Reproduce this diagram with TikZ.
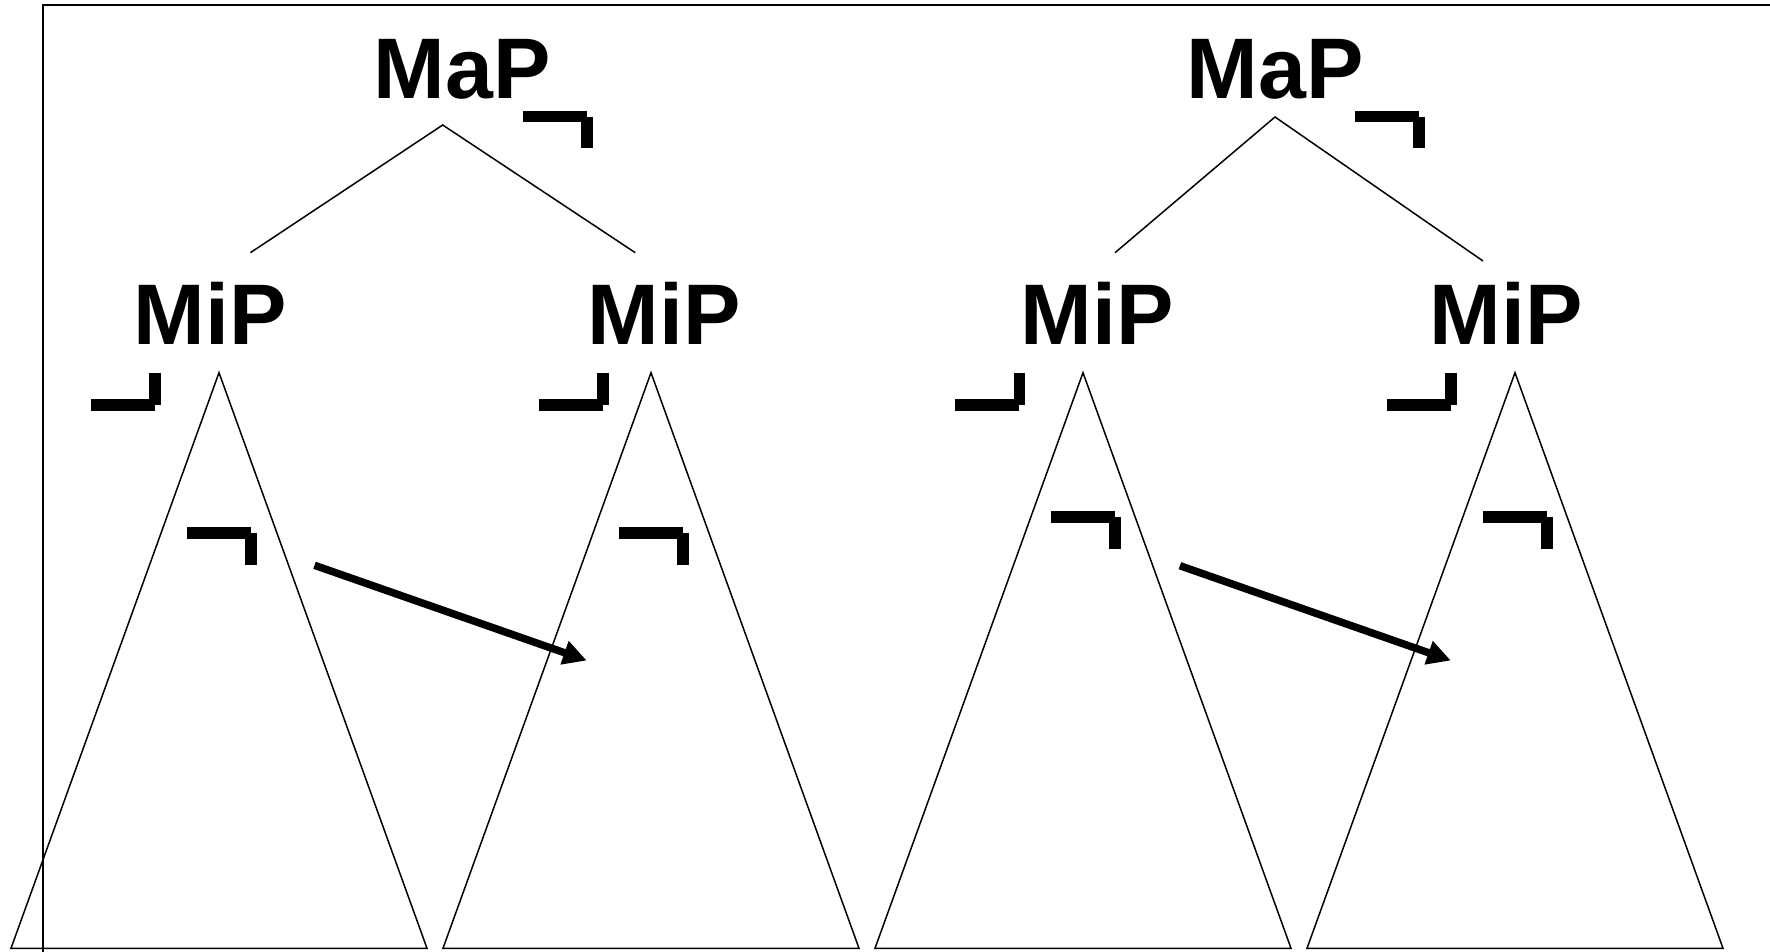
\documentclass[tikz,border=0pt]{standalone}
\usepackage{fontspec}
\setmainfont{Liberation Sans}
\usetikzlibrary{arrows.meta}
\tikzset{
  label/.style={inner sep=0pt, outer sep=0pt, anchor=base west,
    font=\fontsize{86}{90}\selectfont\bfseries},
  thin/.style={line width=1.5pt, line join=miter},
  frameline/.style={line width=2pt},
  move/.style={line width=7.5pt, -{Triangle[length=23.5pt,width=23.5pt]}},
  topbr/.pic={
    \fill (0,0) rectangle (64,11.5);
    \fill (58,6) rectangle (69.7,37.4);
  },
  botbr/.pic={
    \fill (-11.5,0) rectangle (0,31.7);
    \fill (-69.7,26) rectangle (-5.8,37.4);
  }
}
\begin{document}
\begin{tikzpicture}[x=1pt,y=-1pt]
\useasboundingbox (0,0) rectangle (1770,952);
% frame (left and top only)
\coordinate (fTR) at (1770,5);
\coordinate (fTL) at (42.7,5);
\coordinate (fBL) at (42.7,952);
\draw[frameline] (fTR) -- (fTL) -- (fBL);

% labels
\node[label] (map1) at (373.7,99) {MaP};
\node[label] (map2) at (1186.7,99) {MaP};
\node[label] (mip1) at (133.7,344) {MiP};
\node[label] (mip2) at (587.7,344) {MiP};
\node[label] (mip3) at (1020.7,344) {MiP};
\node[label] (mip4) at (1429.7,344) {MiP};

% tree branches
\coordinate (a1) at (442.7,125);
\coordinate (a1l) at (250.4,252.7);
\coordinate (a1r) at (635.3,252.7);
\coordinate (a2) at (1275,117);
\coordinate (a2l) at (1115,252.7);
\coordinate (a2r) at (1483,261);
\draw[thin] (a1l) -- (a1) -- (a1r);
\draw[thin] (a2l) -- (a2) -- (a2r);

% triangles
\foreach \i/\c in {1/219, 2/651, 3/1083, 4/1515} {
  \coordinate (t\i) at (\c,372.7);
  \coordinate (t\i l) at (\c-208,948.3);
  \coordinate (t\i r) at (\c+208,948.3);
  \draw[thin] (t\i) -- (t\i l) -- (t\i r) -- cycle;
}

% brackets near MaP
\pic at (523,111) {topbr};
\pic at (1355,111) {topbr};
% brackets below MiP
\pic at (160.7,373.3) {botbr};
\pic at (608.5,373.3) {botbr};
\pic at (1025,373.3) {botbr};
\pic at (1456.6,373.3) {botbr};
% brackets inside triangles
\pic at (187,527.3) {topbr};
\pic at (619,527.3) {topbr};
\pic at (1051,511.3) {topbr};
\pic at (1483,511.3) {topbr};

% arrows
\coordinate (m1s) at (314.5,565.3);
\coordinate (m1e) at (586.7,660.5);
\coordinate (m2s) at (1179.9,565.7);
\coordinate (m2e) at (1450.8,660.5);
\draw[move] (m1s) -- (m1e);
\draw[move] (m2s) -- (m2e);
\end{tikzpicture}
\end{document}
